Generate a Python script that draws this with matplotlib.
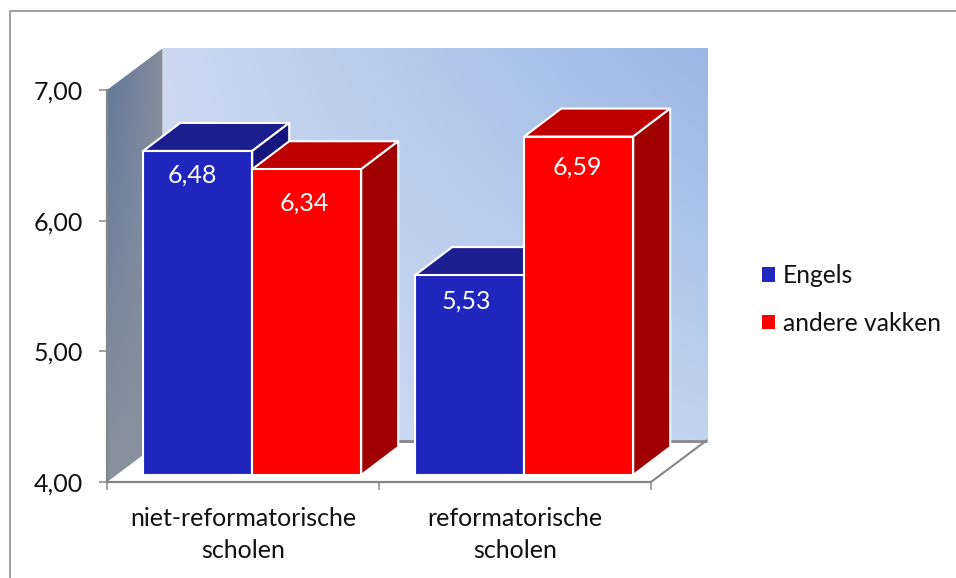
import numpy as np
import matplotlib
matplotlib.use("Agg")
import matplotlib.pyplot as plt
from matplotlib.patches import Polygon, Patch
from matplotlib.lines import Line2D

categories = ["niet-reformatorische\nscholen", "reformatorische\nscholen"]
series_names = ["Engels", "andere vakken"]
engels = [6.48, 5.53]
andere_vakken = [6.34, 6.59]
value_labels_engels = ["6,48", "5,53"]
value_labels_andere = ["6,34", "6,59"]
y_ticks = [4, 5, 6, 7]
y_tick_labels = ["4,00", "5,00", "6,00", "7,00"]

W, H = 956, 578
L, R, B, T = 107, 651, 482, 90
plt.rcParams["font.family"] = ["Lato", "DejaVu Sans"]
TXT = "#111111"
GRAY = "#868686"
FS = 18

fig = plt.figure(figsize=(W / 100, H / 100), dpi=100)
ax = fig.add_axes([L / W, 1 - B / H, (R - L) / W, (B - T) / H])
ax.patch.set_visible(False)
ax.set_autoscale_on(False)
ax.set_xlim(0, 2)
ax.set_ylim(4, 7)

px_x = 2 / (R - L)
px_y = 3 / (B - T)
DX, DY = 55.5 * px_x, 41.5 * px_y          # depth of the box
BDX, BDY = 37 * px_x, 28 * px_y            # depth of a bar
SX, SY = 9 * px_x, 7 * px_y                # shift of bars into the box
GAP = 27.2 * px_x
BW = 109 * px_x


def bilinear(ll, ul, lr, ur, n=64):
    u = np.linspace(0, 1, n)[None, :, None]
    v = np.linspace(1, 0, n)[:, None, None]
    ll, ul, lr, ur = [np.array(c, float)[None, None, :] / 255 for c in (ll, ul, lr, ur)]
    return (1 - u) * (v * ul + (1 - v) * ll) + u * (v * ur + (1 - v) * lr)


# back wall
im = ax.imshow(bilinear((207, 220, 242), (203, 216, 240), (194, 211, 238), (155, 183, 229)),
               extent=(DX, 2 + DX, 4 + DY, 7 + DY), aspect="auto", origin="upper",
               interpolation="bilinear", zorder=0.5)
im.set_clip_on(False)

# left wall
im2 = ax.imshow(bilinear((136, 146, 158), (98, 118, 154), (138, 146, 158), (132, 142, 156)),
                extent=(0, DX, 4, 7 + DY), aspect="auto", origin="upper",
                interpolation="bilinear", zorder=0.6)
clip = Polygon([(0, 4), (DX, 4 + DY), (DX, 7 + DY), (0, 7)], transform=ax.transData)
im2.set_clip_box(fig.bbox)
im2.set_clip_path(clip)

ax.set_xlim(0, 2)
ax.set_ylim(4, 7)

# floor lines
ax.plot([DX, 2 + DX], [4 + DY, 4 + DY], color=GRAY, lw=2.0, clip_on=False, zorder=1,
        solid_capstyle="butt")
ax.plot([2, 2 + DX], [4, 4 + DY], color=GRAY, lw=1.5, clip_on=False, zorder=1)


def bar_3d(x0, value, front, top, side, z):
    b = 4 + SY
    t = value + SY
    ax.bar(x0, value - 4, width=BW, bottom=b, align="edge", color=front,
           edgecolor="white", linewidth=1.5, zorder=z + 0.2, clip_on=False)
    ax.add_patch(Polygon([(x0, t), (x0 + BDX, t + BDY), (x0 + BW + BDX, t + BDY), (x0 + BW, t)],
                         facecolor=top, edgecolor="white", lw=1.5, zorder=z, clip_on=False,
                         joinstyle="round"))
    ax.add_patch(Polygon([(x0 + BW, b), (x0 + BW + BDX, b + BDY), (x0 + BW + BDX, t + BDY), (x0 + BW, t)],
                         facecolor=side, edgecolor="white", lw=1.5, zorder=z + 0.1, clip_on=False,
                         joinstyle="round"))


blue = ("#2126BE", "#1B1E8E", "#14167D")
red = ("#FF0000", "#BE0000", "#A00000")
offs_e = [(-5, -24), (-3.5, -26)]
offs_a = [(-2.5, -34), (-1, -31)]
for i in range(2):
    x0 = i + SX + GAP
    bar_3d(x0, engels[i], *blue, 3 + i * 2)
    bar_3d(x0 + BW, andere_vakken[i], *red, 4 + i * 2)
    ax.annotate(value_labels_engels[i], (x0 + BW / 2, engels[i] + SY),
                xytext=(offs_e[i][0] * 0.72, offs_e[i][1] * 0.72), textcoords="offset points",
                ha="center", va="center", color="white", fontsize=FS, zorder=20)
    ax.annotate(value_labels_andere[i], (x0 + BW * 1.5, andere_vakken[i] + SY),
                xytext=(offs_a[i][0] * 0.72, offs_a[i][1] * 0.72), textcoords="offset points",
                ha="center", va="center", color="white", fontsize=FS, zorder=20)

# axes
for s in ("top", "right"):
    ax.spines[s].set_visible(False)
for s in ("left", "bottom"):
    ax.spines[s].set_color(GRAY)
    ax.spines[s].set_linewidth(1.6)
    ax.spines[s].set_zorder(2)
ax.set_yticks(y_ticks)
ax.set_yticklabels(y_tick_labels, fontsize=FS, color=TXT)
ax.tick_params(axis="y", length=5.5, width=1.1, color=GRAY, pad=12)
ax.set_xticks([0, 1, 2])
ax.set_xticklabels([])
ax.tick_params(axis="x", which="major", length=5.5, width=1.1, color=GRAY)
ax.set_xticks([0.5, 1.5], minor=True)
ax.set_xticklabels(categories, minor=True, fontsize=FS, color=TXT, linespacing=1.5)
ax.tick_params(axis="x", which="minor", length=0, pad=18)

# legend
handles = [Patch(facecolor=blue[0], edgecolor="none"), Patch(facecolor=red[0], edgecolor="none")]
fig.legend(handles, series_names, loc="center left", bbox_to_anchor=(762 / W, 1 - 299.5 / H),
           frameon=False, fontsize=17.7, borderpad=0, borderaxespad=0, handlelength=0.53,
           handleheight=0.53, handletextpad=0.33, labelspacing=1.0, labelcolor=TXT)

# outer frame (top and left only)
fig.add_artist(Line2D([9.5 / W, 9.5 / W, 1], [0, 1 - 11 / H, 1 - 11 / H], color=GRAY, lw=1.1))

fig.savefig("out.png", dpi=100)
